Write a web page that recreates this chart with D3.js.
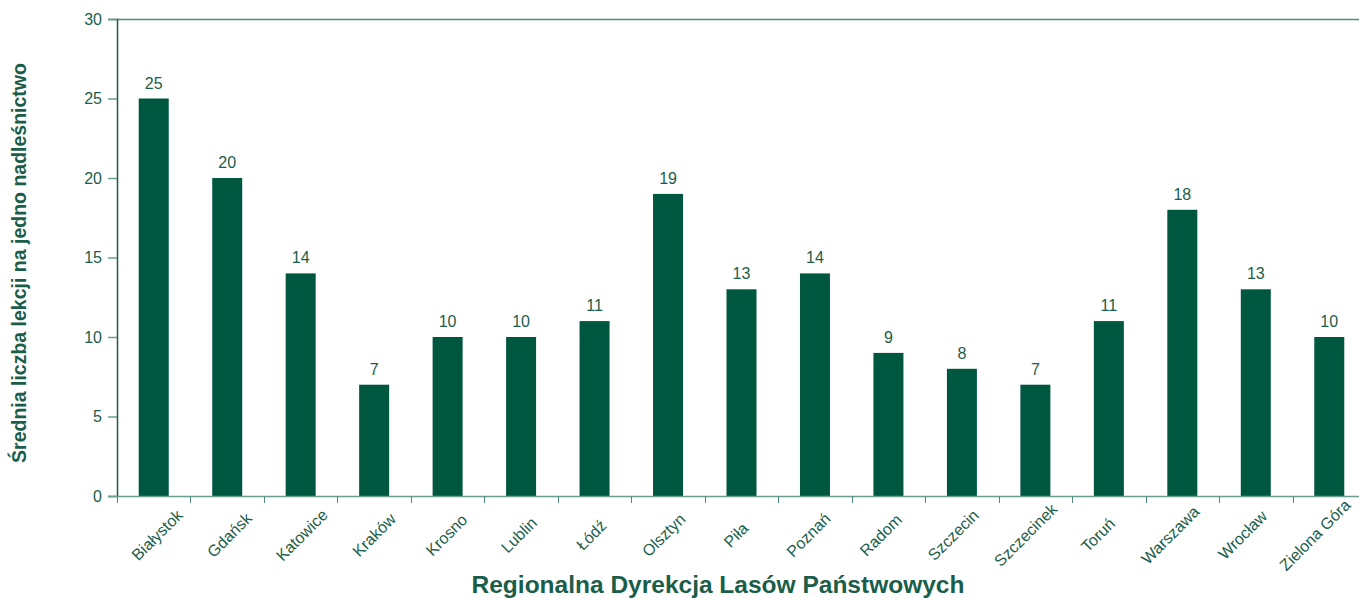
<!DOCTYPE html>
<html><head><meta charset="utf-8">
<script src="https://cdn.jsdelivr.net/npm/d3@7"></script>
<style>body{margin:0;background:#fff}svg{display:block}text{font-family:"Liberation Sans",Arial,sans-serif}</style>
</head><body><svg id="c" width="1359" height="598"></svg>
<script>
const categories = ["Białystok","Gdańsk","Katowice","Kraków","Krosno","Lublin","Łódź","Olsztyn","Piła","Poznań","Radom","Szczecin","Szczecinek","Toruń","Warszawa","Wrocław","Zielona Góra"];
const values = [25,20,14,7,10,10,11,19,13,14,9,8,7,11,18,13,10];
const yTicks = [0,5,10,15,20,25,30];
const yTitle = "Średnia liczba lekcji na jedno nadleśnictwo";
const xTitle = "Regionalna Dyrekcja Lasów Państwowych";

(function(){
const barColor = "#00573f", textColor = "#1a5e4a";
const svg = d3.select("#c");
const mLeft = 117, mRight = 1366, mTop = 19, mBottom = 496;
const x = d3.scaleBand().domain(categories).range([mLeft, mRight]).paddingInner(0).paddingOuter(0);
const xLab = d3.scalePoint().domain(categories).range([157, 1315]);
const y = d3.scaleLinear().domain([0,30]).range([mBottom, mTop]);
const bw = 30;

svg.append("line").attr("x1", mLeft).attr("x2", 1359).attr("y1", y(30)+0.5).attr("y2", y(30)+0.5)
  .attr("stroke", "#4f8c7c").attr("stroke-width", 1.5);

svg.selectAll("rect.bar").data(values).enter().append("rect")
  .attr("x", (d,i) => x(categories[i]) + x.bandwidth()/2 - bw/2)
  .attr("width", bw)
  .attr("y", d => y(d))
  .attr("height", d => y(0) - y(d))
  .attr("fill", barColor);

svg.selectAll("text.val").data(values).enter().append("text")
  .attr("x", (d,i) => x(categories[i]) + x.bandwidth()/2)
  .attr("y", d => y(d) - 10)
  .attr("text-anchor", "middle").attr("font-size", 16).attr("fill", textColor)
  .text(d => d);

const yAxis = d3.axisLeft(y).tickValues(yTicks).tickSize(9).tickPadding(6).tickFormat(d3.format("d"));
const gy = svg.append("g").attr("transform", `translate(${mLeft},0)`).call(yAxis);
gy.select(".domain").attr("stroke", textColor).attr("stroke-width", 1.5);
gy.selectAll(".tick line").attr("stroke", "#6a9e90").attr("stroke-width", 1.5);
gy.selectAll(".tick text").attr("font-size", 16).attr("fill", textColor).attr("font-family", "Liberation Sans, Arial, sans-serif");

const xAxis = d3.axisBottom(x).tickSize(0).tickFormat("");
const gx = svg.append("g").attr("transform", `translate(0,${mBottom})`).call(xAxis);
gx.select(".domain").attr("stroke", "#6a9e90").attr("stroke-width", 1.5);
svg.selectAll("line.xt").data(categories).enter().append("line")
  .attr("x1", d => Math.round(x(d)) + 0.5).attr("x2", d => Math.round(x(d)) + 0.5)
  .attr("y1", mBottom).attr("y2", mBottom + 7)
  .attr("stroke", "#4f8c7c").attr("stroke-width", 1);

svg.selectAll("text.xl").data(categories).enter().append("text")
  .attr("transform", d => `translate(${xLab(d)},535) rotate(-45)`)
  .attr("text-anchor", "middle").attr("font-size", 16).attr("fill", textColor)
  .attr("dy", "0.35em")
  .text(d => d);

svg.append("text").attr("transform", "translate(26,263) rotate(-90)")
  .attr("text-anchor", "middle").attr("font-size", 19.5).attr("font-weight", "bold").attr("fill", textColor)
  .text(yTitle);

svg.append("text").attr("x", 718).attr("y", 593)
  .attr("text-anchor", "middle").attr("font-size", 24.5).attr("font-weight", "bold").attr("fill", textColor)
  .text(xTitle);
})();
</script></body></html>
